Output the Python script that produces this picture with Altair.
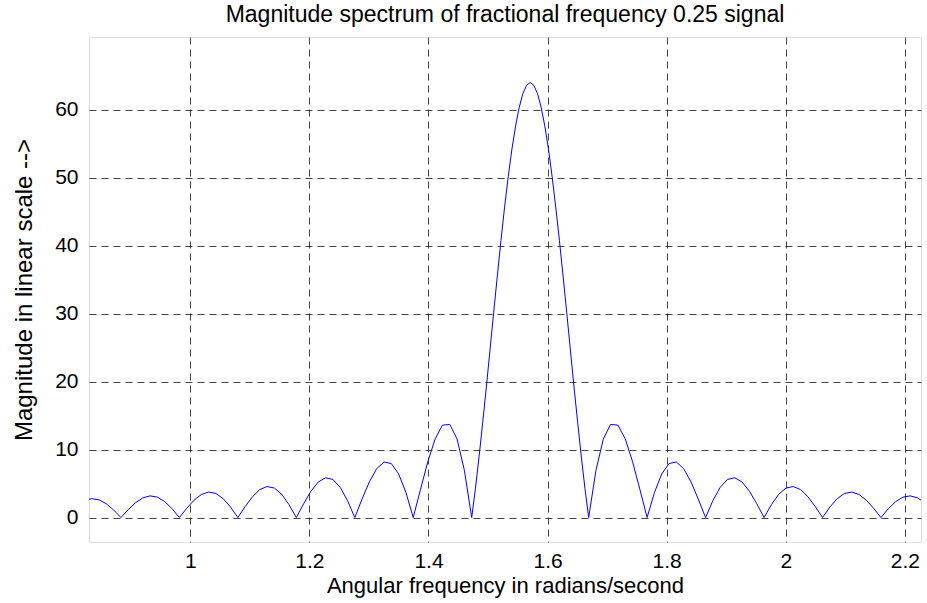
import altair as alt
import pandas as pd

# Angular frequency (rad/s) and magnitude
omega = [0.8222, 0.8345, 0.8468, 0.8590, 0.8713, 0.8836, 0.8958, 0.9081, 0.9204, 0.9327,
         0.9449, 0.9572, 0.9695, 0.9817, 0.9940, 1.0063, 1.0186, 1.0308, 1.0431, 1.0554,
         1.0677, 1.0799, 1.0922, 1.1045, 1.1167, 1.1290, 1.1413, 1.1536, 1.1658, 1.1781,
         1.1904, 1.2026, 1.2149, 1.2272, 1.2395, 1.2517, 1.2640, 1.2763, 1.2885, 1.3008,
         1.3131, 1.3254, 1.3376, 1.3499, 1.3622, 1.3744, 1.3867, 1.3990, 1.4113, 1.4235,
         1.4358, 1.4481, 1.4603,
         1.4726, 1.4788, 1.4849, 1.4910, 1.4972, 1.5033, 1.5094, 1.5156, 1.5217, 1.5278,
         1.5340, 1.5401, 1.5463, 1.5524, 1.5585, 1.5647, 1.5708, 1.5769, 1.5831, 1.5892,
         1.5953, 1.6015, 1.6076, 1.6137, 1.6199, 1.6260, 1.6322, 1.6383, 1.6444, 1.6506,
         1.6567, 1.6628, 1.6690,
         1.6812, 1.6935, 1.7058, 1.7181, 1.7303, 1.7426, 1.7549, 1.7671, 1.7794, 1.7917,
         1.8040, 1.8162, 1.8285, 1.8408, 1.8530, 1.8653, 1.8776, 1.8899, 1.9021, 1.9144,
         1.9267, 1.9390, 1.9512, 1.9635, 1.9758, 1.9880, 2.0003, 2.0126, 2.0249, 2.0371,
         2.0494, 2.0617, 2.0739, 2.0862, 2.0985, 2.1108, 2.1230, 2.1353, 2.1476, 2.1598,
         2.1721, 2.1844, 2.1967, 2.2089, 2.2212, 2.2335]

magnitude = [2.527, 2.779, 2.609, 2.029, 1.117, 0.0, 1.156, 2.174, 2.892, 3.188,
             3.001, 2.341, 1.292, 0.0, 1.346, 2.539, 3.389, 3.749, 3.543, 2.774,
             1.537, 0.0, 1.615, 3.060, 4.105, 4.564, 4.335, 3.414, 1.903, 0.0,
             2.024, 3.863, 5.220, 5.849, 5.602, 4.451, 2.505, 0.0, 2.721, 5.254,
             7.190, 8.169, 7.943, 6.415, 3.675, 0.0, 4.164, 8.242, 11.594, 13.593,
             13.698, 11.531, 6.933,
             0.0, 4.241, 8.912, 13.93, 19.21, 24.64, 30.12, 35.53, 40.75, 45.67,
             50.19, 54.21, 57.62, 60.36, 62.37, 63.59, 64.0, 63.59, 62.37, 60.36,
             57.62, 54.21, 50.19, 45.67, 40.75, 35.53, 30.12, 24.64, 19.21, 13.93,
             8.912, 4.241, 0.0,
             6.933, 11.531, 13.698, 13.593, 11.594, 8.242, 4.164, 0.0, 3.675, 6.415,
             7.943, 8.169, 7.190, 5.254, 2.721, 0.0, 2.505, 4.451, 5.602, 5.849,
             5.220, 3.863, 2.024, 0.0, 1.903, 3.414, 4.335, 4.564, 4.105, 3.060,
             1.615, 0.0, 1.537, 2.774, 3.543, 3.749, 3.389, 2.539, 1.346, 0.0,
             1.292, 2.341, 3.001, 3.188, 2.892, 2.174]

x_ticks = [1.0, 1.2, 1.4, 1.6, 1.8, 2.0, 2.2]
y_ticks = [0, 10, 20, 30, 40, 50, 60]
x_domain = [0.83, 2.227]
y_domain = [-3.6, 70.7]

df = pd.DataFrame({"omega": omega, "magnitude": magnitude})

FONT = "Liberation Sans"
GRID = dict(grid=True, gridColor="#222222", gridDash=[7, 5], gridWidth=1,
            gridOpacity=0.85, domain=False, ticks=False, tickSize=0,
            labelFont=FONT, labelColor="black", titleFont=FONT,
            titleColor="black", titleFontWeight="normal")

chart = alt.Chart(df).mark_line(color="#0000FF", strokeWidth=1, clip=True).encode(
    x=alt.X("omega:Q",
            scale=alt.Scale(domain=x_domain, nice=False, zero=False),
            axis=alt.Axis(values=x_ticks, format="~g", labelFontSize=21,
                          labelPadding=8, labelFlush=False,
                          title="Angular frequency in radians/second",
                          titleFontSize=22, titlePadding=4, **GRID)),
    y=alt.Y("magnitude:Q",
            scale=alt.Scale(domain=y_domain, nice=False, zero=False),
            axis=alt.Axis(values=y_ticks, labelFontSize=21, labelPadding=11,
                          labelFlush=False,
                          title="Magnitude in linear scale -->",
                          titleFontSize=24, titlePadding=18, **GRID)),
).properties(
    width=832,
    height=505,
    title=alt.TitleParams("Magnitude spectrum of fractional frequency 0.25 signal",
                          font=FONT, fontSize=23, fontWeight="normal",
                          color="black", anchor="middle", baseline="bottom",
                          offset=-13),
    autosize=alt.AutoSizeParams(type="none"),
    padding={"left": 89, "top": 37, "right": 6, "bottom": 61},
).configure_view(
    stroke="black", strokeWidth=1
).configure(background="white")

chart.save("out.html", embed_options={"renderer": "svg", "actions": False})
